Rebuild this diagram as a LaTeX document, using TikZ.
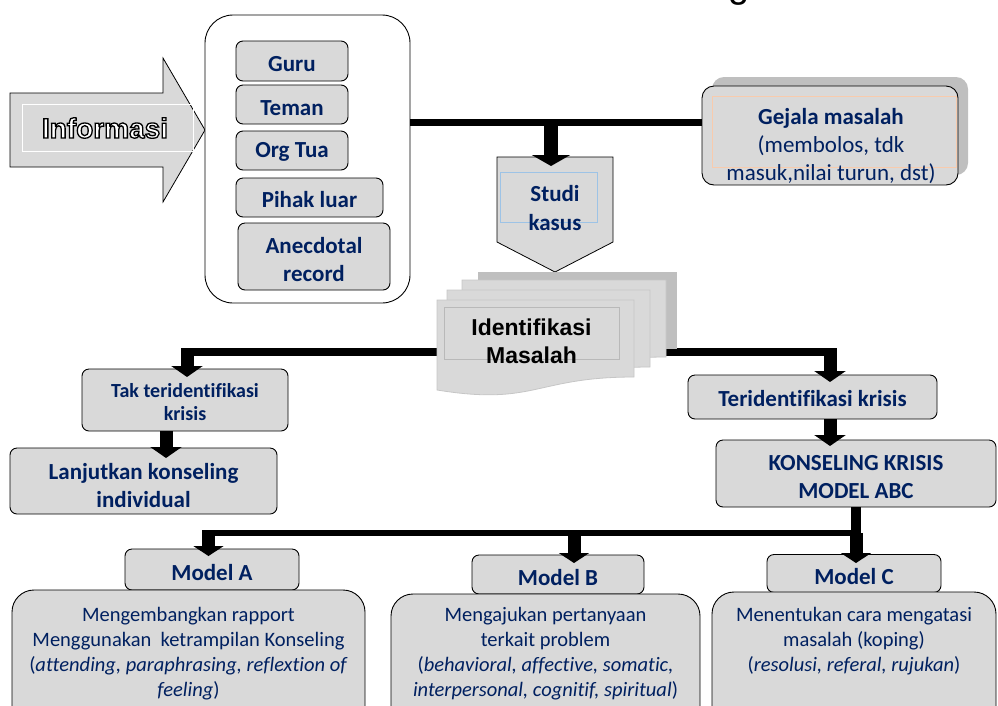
\documentclass[tikz,border=0pt]{standalone}
\usepackage{fontspec}
\setmainfont{Carlito}[Ligatures=NoCommon]
\newfontfamily\arialf{Liberation Sans}
\usetikzlibrary{arrows.meta,calc}
\definecolor{navy}{HTML}{002060}
\definecolor{boxgray}{HTML}{D9D9D9}
\definecolor{shgray}{HTML}{BFBFBF}
\definecolor{lblue}{HTML}{9DC3E6}
\definecolor{lorange}{HTML}{F8CBAD}
\tikzset{
  gshape/.style={draw=black, line width=0.9pt, fill=boxgray, rounded corners=7pt, inner sep=0pt},
  glabel/.style={inner sep=0pt, align=center, text=navy, font=\bfseries\fontsize{23}{28}\selectfont},
  bigbox/.style={draw=black, line width=0.9pt, fill=boxgray, rounded corners=22pt, inner sep=0pt},
  btext/.style={text=navy, align=center, inner sep=0pt, font=\fontsize{20.5}{25}\selectfont, anchor=north},
  hbar/.style={line width=7pt},
  barrow/.style={line width=13pt, -{Triangle[length=11pt,width=31pt]}},
  page/.style={fill=boxgray, draw=gray!45, line width=0.8pt},
}
\begin{document}
\begin{tikzpicture}[x=1pt,y=-1pt]
\useasboundingbox (0,0) rectangle (998,705);

% partial title glyph at the top
\node[font=\arialf\fontsize{38}{40}\selectfont, anchor=base, inner sep=0pt] (ttl) at (739,-3) {g};

% Informasi block arrow
\draw[fill=boxgray, line width=0.8pt] (10,93) -- (163,93) -- (163,58) -- (205,130) -- (163,202) -- (163,167) -- (10,167) -- cycle;
\draw[white, line width=1pt] (22,104) rectangle (193,151);
\node[inner sep=0pt, text=white, font=\arialf\bfseries\fontsize{28}{30}\selectfont] (info) at (105,128)
  {\special{pdf:literal direct q 0 G 1.3 w 2 Tr}Informasi\special{pdf:literal direct Q}};

% source container
\node[draw, line width=0.9pt, rounded corners=28pt, fill=white, minimum width=205pt, minimum height=288pt, inner sep=0pt] (src) at (307.5,159) {};
\node[gshape, minimum width=112pt, minimum height=40pt] (guru) at (292,61) {};
\node[glabel] (gurut) at (292,64) {Guru};
\node[gshape, minimum width=112pt, minimum height=39pt] (teman) at (292,104.5) {};
\node[glabel] (temant) at (292,108) {Teman};
\node[gshape, minimum width=112pt, minimum height=39pt] (ortu) at (292,150.5) {};
\node[glabel] (ortut) at (292,152) {Org Tua};
\node[gshape, minimum width=147pt, minimum height=39pt] (pihak) at (309.5,197.5) {};
\node[glabel] (pihakt) at (309.5,200) {Pihak luar};
\node[gshape, minimum width=152pt, minimum height=67pt] (anec) at (314,256.5) {};
\node[glabel] (anect) at (314,259.5) {Anecdotal\\record};

% Gejala masalah
\fill[shgray, rounded corners=12pt] (712,77) rectangle (968,175);
\node[gshape, rounded corners=12pt, minimum width=256pt, minimum height=99pt] (gej) at (830,135.5) {};
\draw[lorange, line width=0.8pt] (712,96) rectangle (956,167);
\node[text=navy, align=center, inner sep=0pt, font=\fontsize{23}{28}\selectfont] (gejt) at (831,146)
  {\textbf{Gejala masalah}\\(membolos, tdk\\masuk,nilai turun, dst)};

% top connector
\coordinate (tj) at (551,122);
\coordinate (studitip) at (551,166);
\draw[hbar] (src.east |- tj) -- (gej.west |- tj);

% Studi kasus
\draw[fill=boxgray, line width=0.8pt] (497,157) -- (613,157) -- (613,242) -- (555,272) -- (497,242) -- cycle;
\draw[lblue, line width=0.6pt] (500,172) rectangle (597,222);
\node[glabel, font=\bfseries\fontsize{23}{29}\selectfont] (studi) at (555,208) {Studi\\kasus};
\draw[line width=14pt, -{Triangle[length=11pt,width=38pt]}] (tj) -- (studitip);

% branch line behind the documents
\coordinate (jl) at (187,352);
\coordinate (jr) at (830,352);
\draw[line width=8pt] (jl) -- (jr);

% Identifikasi Masalah (multi-document)
\fill[shgray] (478,272) -- (677,272) -- (677,349) -- (478,349) -- cycle;
\draw[page] (462,280) -- (666,280) -- (666,357) .. controls (564,357) and (564,386) .. (462,370) -- cycle;
\draw[page] (447,290) -- (650,290) -- (650,367) .. controls (548,367) and (548,396) .. (447,380) -- cycle;
\draw[page] (437,300) -- (634,300) -- (634,377) .. controls (535,377) and (535,406) .. (437,390) -- cycle;
\draw[gray!55, line width=0.7pt] (444,307) rectangle (619,359);
\node[align=center, inner sep=0pt, font=\arialf\bfseries\fontsize{23}{28}\selectfont] (ident) at (531.5,341) {Identifikasi\\Masalah};

% left branch
\node[gshape, minimum width=206pt, minimum height=62pt] (tak) at (185,400) {};
\node[glabel, font=\bfseries\fontsize{20}{23}\selectfont] (takt) at (185,402.5) {Tak teridentifikasi\\krisis};
\node[gshape, minimum width=267pt, minimum height=66pt] (lanj) at (143.5,481) {};
\node[glabel] (lanjt) at (143.5,485.5) {Lanjutkan konseling\\individual};
\coordinate (takin) at (187,377);
\draw[barrow] ($(jl)+(0,-4)$) -- (takin);
\coordinate (tks) at (166,431);
\coordinate (lanjin) at (166,458);
\draw[barrow] (tks) -- (lanjin);

% right branch
\node[gshape, minimum width=249pt, minimum height=44pt] (teri) at (812.5,397) {};
\node[glabel] (terit) at (812.5,398.5) {Teridentifikasi krisis};
\node[gshape, minimum width=280pt, minimum height=67pt] (kons) at (856,473.5) {};
\node[glabel] (konst) at (856,477) {KONSELING KRISIS\\MODEL ABC};
\coordinate (teriin) at (830,382);
\draw[barrow] ($(jr)+(0,-4)$) -- (teriin);
\coordinate (teris) at (830,419);
\coordinate (konsin) at (830,446);
\draw[barrow] (teris) -- (konsin);

% bottom distribution bar
\coordinate (bar) at (856,533);
\draw[line width=10pt] (kons.south) -- (kons.south |- bar);
\draw[line width=6pt] (202,533) -- (bar);

% Model boxes
\node[gshape, minimum width=174pt, minimum height=41pt] (ma) at (212,569.5) {};
\node[glabel] (mat) at (212,573) {Model A};
\node[gshape, minimum width=172pt, minimum height=39pt] (mb) at (558,574.5) {};
\node[glabel] (mbt) at (558,578) {Model B};
\node[gshape, minimum width=174pt, minimum height=38pt] (mc) at (854,573.5) {};
\node[glabel] (mct) at (854,577) {Model C};
\coordinate (ain) at (208.5,556);
\coordinate (bin) at (574,563);
\coordinate (cin) at (856,563);
\draw[barrow, -{Triangle[length=10pt,width=30pt]}] (208.5,530) -- (ain);
\draw[barrow, -{Triangle[length=10pt,width=30pt]}] (574,530) -- (bin);
\draw[barrow, -{Triangle[length=10pt,width=30pt]}] (bar) -- (cin);

% description boxes (bottom cut by the page edge)
\node[bigbox, minimum width=353pt, minimum height=170pt] (da) at (188.5,675) {};
\node[bigbox, minimum width=309pt, minimum height=166pt] (db) at (545.5,677) {};
\node[bigbox, minimum width=284pt, minimum height=168pt] (dc) at (854,676) {};
\node[btext] (ta) at (188.5,607) {Mengembangkan rapport\\Menggunakan\ \ ketrampilan Konseling\\(\textit{attending, paraphrasing, reflextion of}\\\textit{feeling})};
\node[btext] (tb) at (545.5,607) {Mengajukan pertanyaan\\terkait problem\\(\textit{behavioral, affective, somatic,}\\\textit{interpersonal, cognitif, spiritual})};
\node[btext] (tc) at (854,607) {Menentukan cara mengatasi\\masalah (koping)\\(\textit{resolusi, referal, rujukan})};
\end{tikzpicture}
\end{document}
